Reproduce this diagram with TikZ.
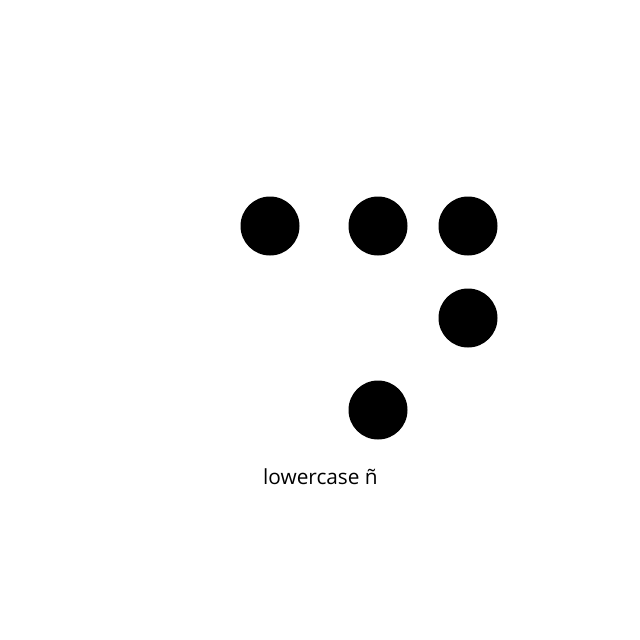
\documentclass[tikz,border=0pt]{standalone}
\usepackage{fontspec}
\setmainfont{Open Sans}
\begin{document}
\begin{tikzpicture}[x=1pt,y=-1pt,
  dot/.style={circle,fill=black,inner sep=0pt,minimum size=59pt},
  lbl/.style={font=\fontsize{20.8}{24}\selectfont,inner sep=0pt,anchor=base west}]
\useasboundingbox[fill=white] (0,0) rectangle (640,640);
\node[dot] (d1) at (270,226) {};
\node[dot] (d2) at (378,226) {};
\node[dot] (d4) at (468,226) {};
\node[dot] (d5) at (468,318) {};
\node[dot] (d6) at (378,410) {};
\node[lbl] (t) at (263,484) {lowercase ñ};
\end{tikzpicture}
\end{document}
